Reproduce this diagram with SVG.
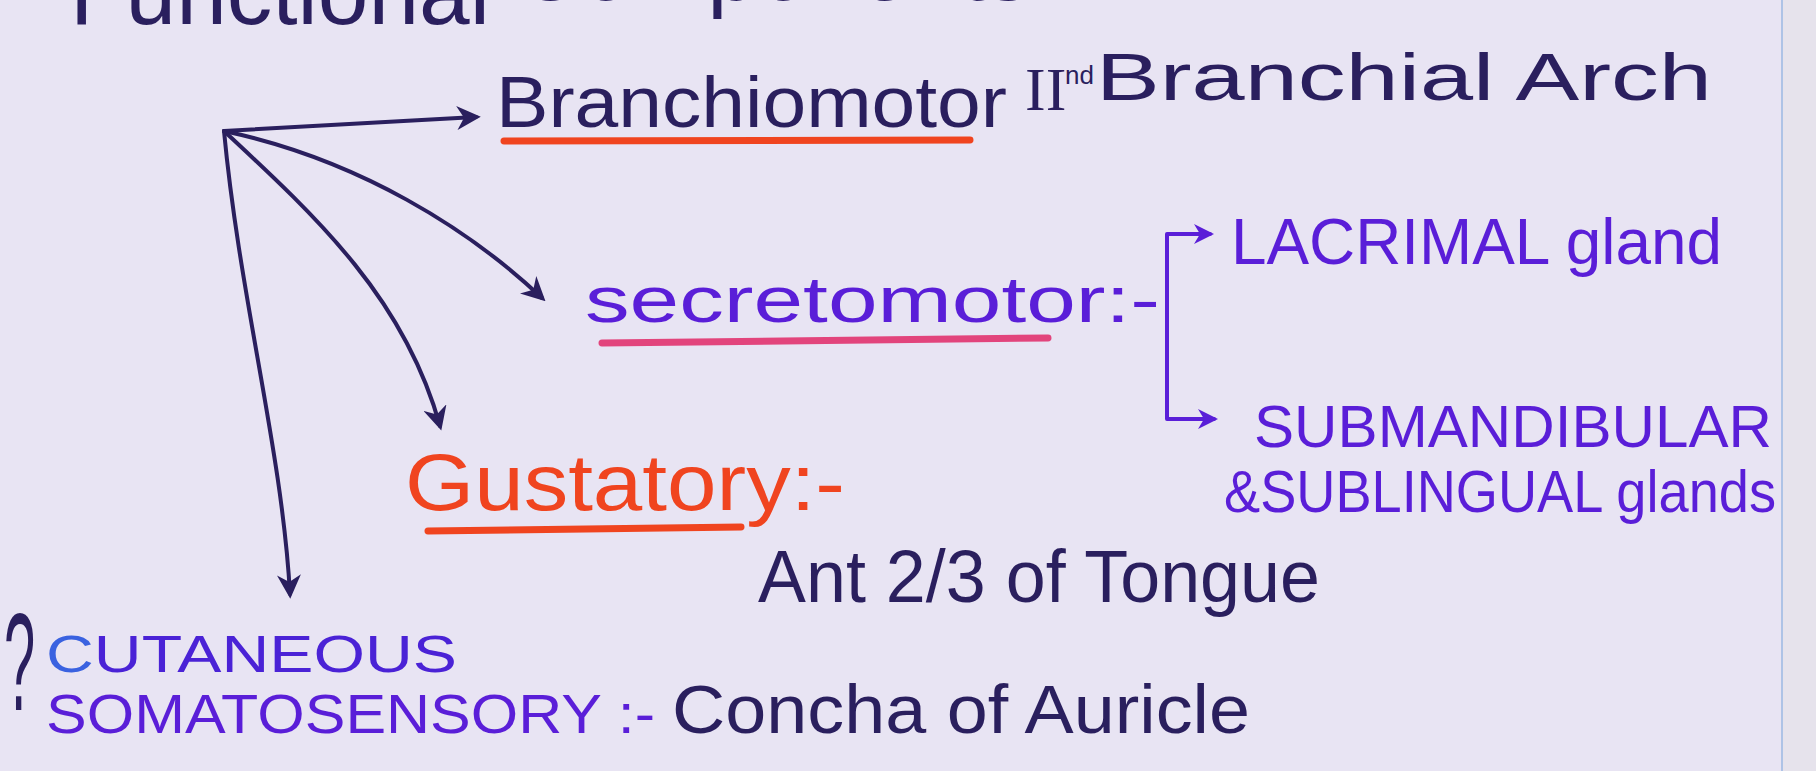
<svg xmlns="http://www.w3.org/2000/svg" width="1816" height="771" viewBox="0 0 1816 771">
<defs>
<style>
.t{font-family:"Liberation Sans","Open Sans",sans-serif}
.ink{fill:#2a1f5e}
.pur{fill:#5a1ed8}
.red{fill:#f0441f}
.c{fill:none;stroke:#2a1f5e;stroke-width:4;stroke-linecap:round}
.cp{fill:none;stroke:#5a1ed8;stroke-width:4;stroke-linecap:round;stroke-linejoin:round}
.ul{fill:none;stroke-width:7;stroke-linecap:round}
</style>
<marker id="hn" viewBox="0 0 10 10" refX="8" refY="5" markerWidth="6" markerHeight="6" orient="auto" markerUnits="strokeWidth">
<path d="M0,0 L10,5 L0,10 L3,5 z" fill="#2a1f5e"/>
</marker>
<marker id="hp" viewBox="0 0 10 10" refX="8" refY="5" markerWidth="5" markerHeight="5" orient="auto" markerUnits="strokeWidth">
<path d="M0,0 L10,5 L0,10 L3,5 z" fill="#5a1ed8"/>
</marker>
</defs>
<rect width="1816" height="771" fill="#e8e4f3"/>
<rect x="1782" y="0" width="34" height="771" fill="#e6e3ec"/>
<line x1="1782" y1="0" x2="1782" y2="771" stroke="#aec3e6" stroke-width="2"/>

<g id="title">
<text class="t ink" x="70" y="24" font-size="91">Functional<tspan dy="-24"> Components</tspan></text>
</g>

<g id="connectors">
<path class="c" d="M224,131 L476,117" marker-end="url(#hn)"/>
<path class="c" d="M224,131 C360,160 470,230 542,298" marker-end="url(#hn)"/>
<path class="c" d="M224,131 C320,220 405,300 440,426" marker-end="url(#hn)"/>
<path class="c" d="M224,131 C240,300 282,450 290,594" marker-end="url(#hn)"/>
<path class="cp" d="M1167,315 L1167,234 L1210,234" marker-end="url(#hp)"/>
<path class="cp" d="M1167,315 L1167,419 L1214,419" marker-end="url(#hp)"/>
</g>

<g id="branchiomotor">
<text class="t ink" x="496" y="127" font-size="72" textLength="511" lengthAdjust="spacingAndGlyphs">Branchiomotor</text>
<path class="ul" stroke="#f0441f" d="M504,141 L970,140"/>
</g>

<g id="arch">
<text class="ink" x="1025" y="110" font-size="62" font-family="Liberation Serif, serif">II</text>
<text class="t ink" x="1065" y="84" font-size="26">nd</text>
<text class="t ink" x="1096" y="100" font-size="66" textLength="616" lengthAdjust="spacingAndGlyphs">Branchial Arch</text>
</g>

<g id="secretomotor">
<text class="t pur" x="585" y="322" font-size="64" textLength="575" lengthAdjust="spacingAndGlyphs">secretomotor:-</text>
<path class="ul" stroke="#e2447c" stroke-width="8" d="M602,343 L1048,338"/>
</g>

<g id="lacrimal">
<text class="t pur" x="1231" y="264" font-size="64" textLength="491" lengthAdjust="spacingAndGlyphs">LACRIMAL gland</text>
</g>

<g id="submandibular">
<text class="t pur" x="1254" y="447" font-size="60" textLength="518" lengthAdjust="spacingAndGlyphs">SUBMANDIBULAR</text>
<text class="t pur" x="1224" y="512" font-size="60" textLength="552" lengthAdjust="spacingAndGlyphs">&amp;SUBLINGUAL glands</text>
</g>

<g id="gustatory">
<text class="t red" x="405" y="510" font-size="80" textLength="440" lengthAdjust="spacingAndGlyphs">Gustatory:-</text>
<path class="ul" stroke="#f0441f" d="M428,531 L741,527"/>
<text class="t ink" x="758" y="602" font-size="74" textLength="562" lengthAdjust="spacingAndGlyphs">Ant 2/3 of Tongue</text>
</g>

<g id="somatosensory">
<text class="t ink" font-size="140" transform="translate(4,710) scale(0.4,1)">?</text>
<text class="t" x="46" y="672" font-size="52" textLength="411" lengthAdjust="spacingAndGlyphs" fill="#4a22d6"><tspan fill="#3a62e0">C</tspan>UTANEOUS</text>
<text class="t pur" x="46" y="733" font-size="56" textLength="609" lengthAdjust="spacingAndGlyphs">SOMATOSENSORY :-</text>
<text class="t ink" x="672" y="733" font-size="68" textLength="578" lengthAdjust="spacingAndGlyphs">Concha of Auricle</text>
</g>
</svg>
